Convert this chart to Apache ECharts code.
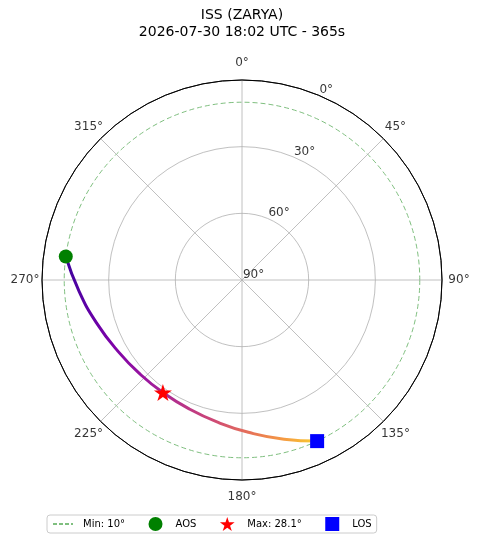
<!DOCTYPE html>
<html><head><meta charset="utf-8">
<script src="https://cdn.jsdelivr.net/npm/echarts@6/dist/echarts.min.js"></script>
<style>html,body{margin:0;padding:0;background:#fff}#c{width:480px;height:543px}</style>
</head><body><div id="c"></div>
<script>
// ---- data ----
const titleLines = ['ISS (ZARYA)', '2026-07-30 18:02 UTC - 365s'];
const azimuthTicks = [0, 45, 90, 135, 180, 225, 270, 315];
const elevationTicks = [0, 30, 60, 90];
const minElevation = 10;
const maxElevation = 28.1;
const trackAz = [277.6, 266.3, 253.7, 239.8, 226.9, 215.1, 202.3, 189.5, 177.6, 165.2, 155.0];
const trackEl = [10.0, 16.4, 21.7, 25.7, 27.6, 28.1, 27.3, 25.0, 21.4, 15.9, 10.0];

// ---- derived ----
const FONT = 'DejaVu Sans';
const CENTER = [242, 280];
const aosIdx = 0;
const losIdx = trackAz.length - 1;
const maxIdx = trackEl.indexOf(Math.max.apply(null, trackEl));
const minName = 'Min: ' + minElevation + '°';
const maxName = 'Max: ' + maxElevation + '°';
const starPath = 'path://M0,-1L0.2245,-0.309L0.951,-0.309L0.363,0.118L0.588,0.809L0,0.382L-0.588,0.809L-0.363,0.118L-0.951,-0.309L-0.2245,-0.309Z';
const squarePath = 'path://M0,0L1,0L1,1L0,1Z';
const pt = i => [trackEl[i], trackAz[i]];

const hiddenAngle = idx => ({polarIndex: idx, type: 'value', min: 0, max: 360, startAngle: 90, clockwise: true,
  axisLine: {show: false}, axisTick: {show: false}, axisLabel: {show: false}, splitLine: {show: false}});

const chart = echarts.init(document.getElementById('c'), null, {renderer: 'canvas'});
chart.setOption({
  animation: false,
  backgroundColor: '#ffffff',
  title: {
    text: titleLines.join('\n'), left: 242, top: 7, padding: 0, textAlign: 'center',
    textStyle: {fontFamily: FONT, fontSize: 14, fontWeight: 'normal', color: '#000', lineHeight: 17}
  },
  legend: {
    left: 47, top: 515, padding: [2, 5, 2, 5], itemGap: 23.5, itemWidth: 20, itemHeight: 14,
    borderColor: '#cccccc', borderWidth: 1, borderRadius: 3, backgroundColor: '#ffffff',
    selectedMode: false,
    textStyle: {fontFamily: FONT, fontSize: 10, color: '#000', padding: [0, 0, 0, 5]},
    data: [
      {name: minName, itemStyle: {opacity: 0}},
      {name: 'AOS', icon: 'circle'},
      {name: maxName, icon: starPath},
      {name: 'LOS', icon: squarePath}
    ]
  },
  polar: [
    {center: CENTER, radius: 200},
    {center: CENTER, radius: 217},
    {center: CENTER, radius: 200}
  ],
  angleAxis: [
    {polarIndex: 0, type: 'value', min: 0, max: 360, interval: 45, startAngle: 90, clockwise: true,
      axisLine: {show: true, lineStyle: {color: '#000', width: 1}},
      axisTick: {show: false}, axisLabel: {show: false},
      splitLine: {show: true, lineStyle: {color: '#b0b0b0', width: 0.8}}},
    hiddenAngle(1),
    hiddenAngle(2)
  ],
  radiusAxis: [
    {polarIndex: 0, type: 'value', min: 0, max: 90, interval: 30, inverse: true,
      axisLine: {show: false}, axisTick: {show: false}, axisLabel: {show: false},
      splitLine: {show: true, lineStyle: {color: ['#000000', '#b0b0b0', '#b0b0b0', '#b0b0b0'], width: 0.8}}},
    {polarIndex: 1, type: 'value', min: 0, max: 1,
      axisLine: {show: false}, axisTick: {show: false}, axisLabel: {show: false}, splitLine: {show: false}},
    {polarIndex: 2, type: 'value', min: 0, max: 90, inverse: true,
      axisLine: {show: false}, axisLabel: {show: false},
      axisTick: {show: false, customValues: [minElevation]},
      splitLine: {show: true, lineStyle: {color: '#7fbf7f', width: 1, type: [5, 3]}}}
  ],
  series: [
    {name: minName, type: 'line', coordinateSystem: 'polar', polarIndex: 0, data: [],
      symbol: 'none', itemStyle: {color: '#7fbf7f'}, lineStyle: {color: '#7fbf7f', width: 1, type: [4, 2]}},
    {name: 'track', type: 'line', coordinateSystem: 'polar', polarIndex: 0, smooth: true, symbol: 'none', z: 3,
      data: trackAz.map((a, i) => pt(i)),
      lineStyle: {width: 3, cap: 'round', color: {type: 'linear', x: 0, y: 0, x2: 1, y2: 1, colorStops: [
        {offset: 0, color: '#3a049a'}, {offset: 0.15, color: '#5c01a6'}, {offset: 0.3, color: '#7e03a8'},
        {offset: 0.45, color: '#9c179e'}, {offset: 0.56, color: '#b32f8c'}, {offset: 0.68, color: '#cc4778'},
        {offset: 0.8, color: '#e57059'}, {offset: 0.9, color: '#f59a43'}, {offset: 1, color: '#fad22c'}]}}},
    {name: 'AOS', type: 'scatter', coordinateSystem: 'polar', polarIndex: 0, z: 5,
      symbol: 'circle', symbolSize: 14, itemStyle: {color: '#008000', opacity: 1}, data: [pt(aosIdx)]},
    {name: maxName, type: 'scatter', coordinateSystem: 'polar', polarIndex: 0, z: 5,
      symbol: starPath, symbolKeepAspect: true, symbolSize: 18, itemStyle: {color: '#ff0000', opacity: 1}, data: [pt(maxIdx)]},
    {name: 'LOS', type: 'scatter', coordinateSystem: 'polar', polarIndex: 0, z: 5,
      symbol: squarePath, symbolKeepAspect: true, symbolSize: 14, itemStyle: {color: '#0000ff', opacity: 1}, data: [pt(losIdx)]},
    {name: 'angleLabels', type: 'scatter', coordinateSystem: 'polar', polarIndex: 1, silent: true, z: 6,
      symbolSize: 0.1, itemStyle: {color: 'rgba(0,0,0,0)'},
      data: azimuthTicks.map(a => [1, a]),
      label: {show: true, position: 'inside', formatter: p => p.value[1] + '°',
        fontFamily: FONT, fontSize: 12, color: '#000'}},
    {name: 'radiusLabels', type: 'scatter', coordinateSystem: 'polar', polarIndex: 0, silent: true, z: 6,
      symbolSize: 0.1, itemStyle: {color: 'rgba(0,0,0,0)'},
      data: elevationTicks.map(e => [e, 22.5]),
      label: {show: true, position: [1, 1], align: 'left', verticalAlign: 'bottom',
        formatter: p => p.value[0] + '°', fontFamily: FONT, fontSize: 12, color: '#000'}}
  ]
});
</script>
</body></html>
